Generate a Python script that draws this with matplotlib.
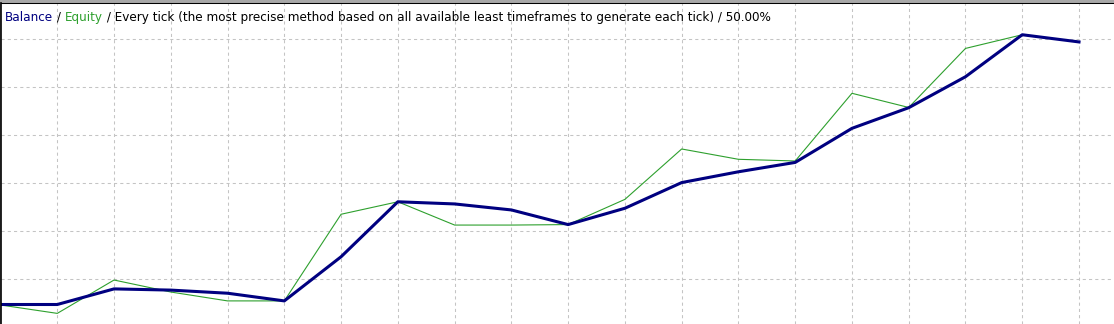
import matplotlib
matplotlib.use("Agg")
import matplotlib.pyplot as plt
import numpy as np

# balance / equity per test pass
balance = [9895, 9895, 9960, 9955, 9942, 9910, 10094, 10323, 10314, 10289,
           10228, 10296, 10403, 10448, 10487, 10629, 10715, 10844, 11019, 10989]
equity = [9893, 9858, 9997, 9947, 9910, 9910, 10271, 10323, 10226, 10226,
          10228, 10333, 10543, 10500, 10493, 10775, 10716, 10962, 11019]

title_parts = ["Balance", " / ", "Equity",
               " / Every tick (the most precise method based on all available "
               "least timeframes to generate each tick) / 50.00%"]
title_colors = ["#000080", "black", "#2ea02e", "black"]

W, H = 1114, 324
fig = plt.figure(figsize=(W / 100, H / 100), dpi=100, facecolor="#a8a8a8")
ax = fig.add_axes([0.5 / W, 0, 1 - 0.5 / W, 1 - 2.5 / H])
ax.set_facecolor("white")

step = 1079 / 19  # px per pass
ax.set_xticks(np.arange(1, 20))
ax.set_yticks(np.arange(10000, 11200, 200))
# set limits after ticks so the ticks don't stretch them
ax.set_xlim(0, W / step)
# 200 per grid row of 48 px, 10000 sits at 279.3 px from top
ax.set_ylim(10000 - (H - 279.3) / 48 * 200, 10000 + (279.3 - 2.5) / 48 * 200)
ax.tick_params(length=0, labelleft=False, labelbottom=False)
ax.grid(True, color="#c4c4c4", linestyle=(0, (3, 3)), linewidth=0.75)
ax.set_axisbelow(True)

for s in ["right", "bottom"]:
    ax.spines[s].set_visible(False)
ax.spines["top"].set_color("black")
ax.spines["top"].set_linewidth(0.75)
ax.spines["left"].set_color("black")
ax.spines["left"].set_linewidth(1.2)

ax.plot(np.arange(len(equity)), equity, color="#2ea02e", linewidth=0.8)
ax.plot(np.arange(len(balance)), balance, color="#000080", linewidth=2.2,
        solid_joinstyle="round")

# multi-coloured header text
fig.canvas.draw()
renderer = fig.canvas.get_renderer()
x = 5
for part, col in zip(title_parts, title_colors):
    t = fig.text(x / W, 1 - 17.5 / H, part, color=col, fontsize=8.65,
                 family="DejaVu Sans", va="center", ha="left")
    bb = t.get_window_extent(renderer)
    x += bb.width

fig.savefig("out.png", dpi=100, facecolor=fig.get_facecolor())
